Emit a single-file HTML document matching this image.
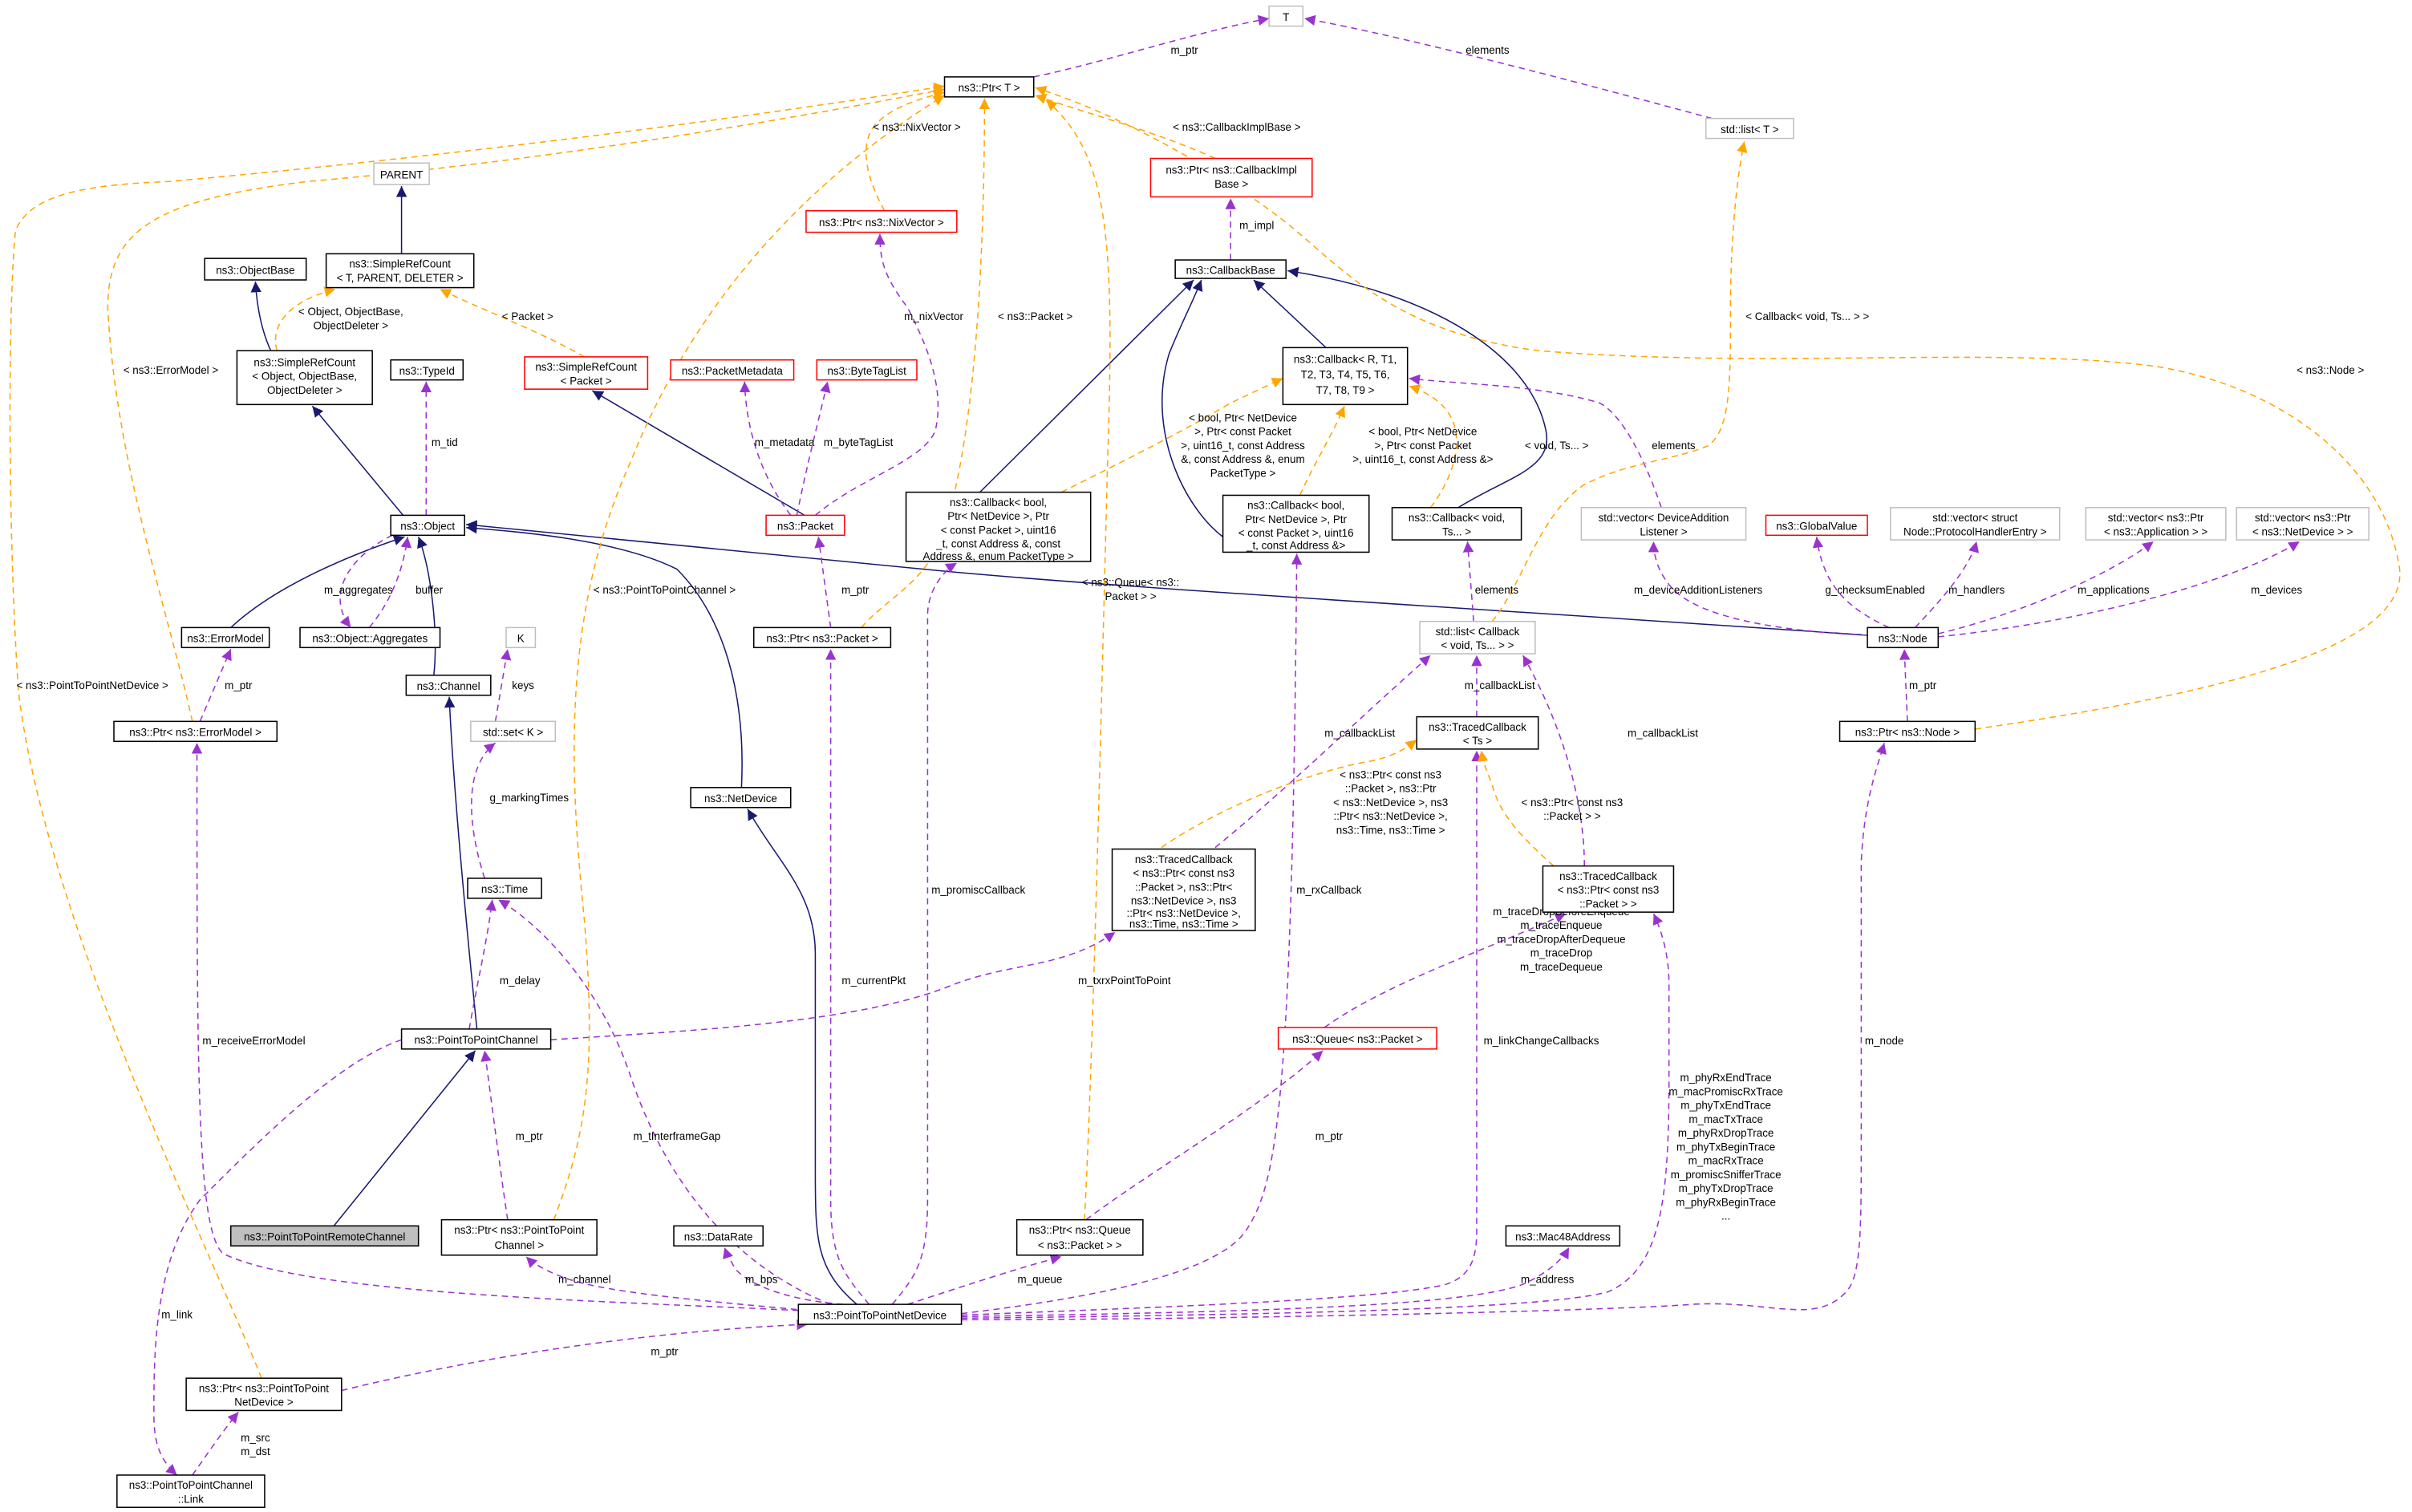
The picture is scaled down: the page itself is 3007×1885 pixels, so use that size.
<!DOCTYPE html>
<html><head><meta charset="utf-8"><style>
html,body{margin:0;padding:0;background:#fff}
svg{display:block}
text{font-family:"Liberation Sans","DejaVu Sans",sans-serif;font-size:7.0px;fill:#000}
.nb rect{fill:#fff;stroke:#000;stroke-width:0.8}
.ng rect{fill:#fff;stroke:#bfbfbf;stroke-width:0.8}
.nr rect{fill:#fff;stroke:#ff0000;stroke-width:0.8}
.nn{fill:none;stroke:#191970;stroke-width:0.8}
.pp{fill:none;stroke:#9a32cd;stroke-width:0.8;stroke-dasharray:4,3}
.oo{fill:none;stroke:#ffa500;stroke-width:0.8;stroke-dasharray:4,3}
.c{text-anchor:middle}
</style></head><body>
<svg width="3007" height="1885" viewBox="0 0 1568 983" xmlns="http://www.w3.org/2000/svg">
<defs>
<marker id="an" viewBox="0 0 10 10" refX="10" refY="5" markerWidth="7" markerHeight="7" markerUnits="userSpaceOnUse" orient="auto"><path d="M0,0L10,5L0,10z" fill="#191970"/></marker>
<marker id="ap" viewBox="0 0 10 10" refX="10" refY="5" markerWidth="7" markerHeight="7" markerUnits="userSpaceOnUse" orient="auto"><path d="M0,0L10,5L0,10z" fill="#9a32cd"/></marker>
<marker id="ao" viewBox="0 0 10 10" refX="10" refY="5" markerWidth="7" markerHeight="7" markerUnits="userSpaceOnUse" orient="auto"><path d="M0,0L10,5L0,10z" fill="#ffa500"/></marker>
</defs>

<g marker-end="url(#an)">
<path class="nn" d="M261,165 L261,121"/>
<path class="nn" d="M176,228 C170,215 167,200 166,183"/>
<path class="nn" d="M262,335 L203,264"/>
<path class="nn" d="M150,408 C180,380 230,360 263,349"/>
<path class="nn" d="M282,439 C285,410 280,370 272,349"/>
<path class="nn" d="M482,512 C485,450 470,400 440,370 C400,350 330,345 303,343"/>
<path class="nn" d="M1214,413 C1000,398 720,382 600,370 C450,355 350,345 303,341"/>
<path class="nn" d="M523,335 L385,254"/>
<path class="nn" d="M637,320 L776,182"/>
<path class="nn" d="M795,349 C770,330 745,280 760,230 C768,210 776,195 781,182"/>
<path class="nn" d="M862,226 L815,182"/>
<path class="nn" d="M948,330 C980,310 1010,305 1005,280 C995,230 930,190 837,176"/>
<path class="nn" d="M310,669 C305,620 295,520 292,453"/>
<path class="nn" d="M557,848 C530,825 530,805 530,760 L530,620 C530,580 505,560 486,526"/>
<path class="nn" d="M217,797 L309,683"/>
</g>

<g marker-end="url(#ap)">
<path class="pp" d="M1113,77 C1050,60 920,25 848,12"/>
<path class="pp" d="M672,50 C720,40 780,20 825,12"/>
<path class="pp" d="M800,169 L800,129"/>
<path class="pp" d="M530,335 C560,310 600,300 608,280 C615,250 600,220 590,200 C575,180 572,170 572,152"/>
<path class="pp" d="M514,335 C495,310 485,280 484,248"/>
<path class="pp" d="M518,335 C525,300 533,270 538,248"/>
<path class="pp" d="M277,335 L277,248"/>
<path class="pp" d="M255,348 C230,360 210,385 228,408"/>
<path class="pp" d="M240,408 C255,390 262,370 265,349"/>
<path class="pp" d="M322,469 L330,422"/>
<path class="pp" d="M315,571 C305,540 300,500 322,483"/>
<path class="pp" d="M130,469 L150,422"/>
<path class="pp" d="M540,408 L532,349"/>
<path class="pp" d="M305,669 C310,640 317,610 320,585"/>
<path class="pp" d="M330,793 C325,760 320,720 315,683"/>
<path class="pp" d="M261,676 C220,690 170,740 130,780 C100,820 100,880 100,920 C100,940 105,950 115,959"/>
<path class="pp" d="M125,959 C135,945 145,930 155,918"/>
<path class="pp" d="M222,904 C320,880 430,865 525,861"/>
<path class="pp" d="M358,676 C450,670 560,665 620,640 C660,625 690,630 725,606"/>
<path class="pp" d="M861,668 C900,640 960,620 1018,594"/>
<path class="pp" d="M706,793 C750,760 820,720 860,683"/>
<path class="pp" d="M1214,413 C1150,410 1100,400 1085,380 C1077,370 1075,360 1075,352"/>
<path class="pp" d="M1228,408 C1200,395 1185,380 1181,349"/>
<path class="pp" d="M1245,408 C1262,390 1280,370 1285,352"/>
<path class="pp" d="M1260,412 C1310,400 1370,375 1400,352"/>
<path class="pp" d="M1260,414 C1350,405 1450,380 1495,352"/>
<path class="pp" d="M1240,469 L1238,422"/>
<path class="pp" d="M960,466 L960,426"/>
<path class="pp" d="M790,551 C840,510 880,470 930,426"/>
<path class="pp" d="M1030,563 C1030,520 1015,470 990,426"/>
<path class="pp" d="M958,404 L954,352"/>
<path class="pp" d="M1080,330 C1070,300 1055,270 1040,262 C1000,250 950,250 916,246"/>
<path class="pp" d="M519,852 C400,846 200,842 145,815 C128,800 128,700 128,483"/>
<path class="pp" d="M540,848 C470,820 430,760 410,700 C390,640 350,600 324,585"/>
<path class="pp" d="M525,852 C450,845 390,840 365,830 C352,825 345,820 342,817"/>
<path class="pp" d="M548,848 C510,845 487,835 478,825 C474,818 472,814 471,811"/>
<path class="pp" d="M565,848 C550,830 540,820 540,780 L540,422"/>
<path class="pp" d="M580,848 C595,830 603,820 603,780 L603,400 C603,385 612,372 622,366"/>
<path class="pp" d="M590,848 C630,835 660,825 690,817"/>
<path class="pp" d="M625,854 C700,845 790,830 810,800 C830,770 840,720 843,360"/>
<path class="pp" d="M625,855 C750,850 900,845 940,835 C955,830 960,820 960,800 L960,488"/>
<path class="pp" d="M625,856 C800,853 950,850 990,835 C1005,828 1015,820 1020,811"/>
<path class="pp" d="M625,857 C800,855 1000,852 1045,840 C1080,825 1085,780 1085,700 L1085,640 C1085,620 1080,605 1075,594"/>
<path class="pp" d="M625,858 C800,858 1050,852 1100,848 C1150,845 1180,862 1200,840 C1210,830 1210,800 1210,740 L1210,560 C1212,520 1220,500 1225,483"/>
</g>

<g marker-end="url(#ao)">
<path class="oo" d="M575,137 C560,110 560,90 570,80 C580,70 595,65 614,60"/>
<path class="oo" d="M560,408 C575,390 600,380 612,350 C630,300 640,200 640,64"/>
<path class="oo" d="M380,232 C350,215 310,200 286,188"/>
<path class="oo" d="M180,228 C175,210 190,195 218,188"/>
<path class="oo" d="M125,469 C110,400 75,300 70,200 C70,150 100,130 200,118 C350,105 500,80 614,58"/>
<path class="oo" d="M170,896 C140,820 30,600 12,450 C5,350 5,200 10,150 C20,125 60,120 110,118 C200,110 400,90 614,56"/>
<path class="oo" d="M360,793 C380,740 388,700 380,600 C370,500 365,400 410,300 C450,200 520,120 614,62"/>
<path class="oo" d="M790,103 C750,85 710,75 673,62"/>
<path class="oo" d="M705,793 C710,700 715,500 720,300 C725,150 720,100 680,65"/>
<path class="oo" d="M1284,474 C1450,450 1565,420 1560,370 C1550,300 1480,250 1400,238 C1300,225 1150,240 1000,228 C900,215 870,170 830,140 C790,110 730,75 673,57"/>
<path class="oo" d="M970,404 C990,380 1000,335 1030,315 C1060,300 1085,300 1110,290 C1125,280 1125,250 1125,200 C1125,150 1130,110 1134,92"/>
<path class="oo" d="M690,320 C730,300 770,280 800,262 C815,255 825,250 834,246"/>
<path class="oo" d="M845,322 C855,300 865,285 874,264"/>
<path class="oo" d="M930,330 C945,310 950,290 945,275 C940,262 928,255 916,251"/>
<path class="oo" d="M755,551 C800,520 860,500 890,495 C905,492 912,488 921,481"/>
<path class="oo" d="M1010,563 C990,545 975,530 970,510 C966,500 964,495 963,488"/>
</g>

<g>
<text x="770" y="35" class="c">m_ptr</text>
<text x="967" y="35" class="c">elements</text>
<text x="596" y="85" class="c">&lt; ns3::NixVector &gt;</text>
<text x="804" y="85" class="c">&lt; ns3::CallbackImplBase &gt;</text>
<text x="817" y="149" class="c">m_impl</text>
<text x="607" y="208" class="c">m_nixVector</text>
<text x="673" y="208" class="c">&lt; ns3::Packet &gt;</text>
<text x="343" y="208" class="c">&lt; Packet &gt;</text>
<text x="228" y="205" class="c">&lt; Object, ObjectBase,</text>
<text x="228" y="214" class="c">ObjectDeleter &gt;</text>
<text x="111" y="243" class="c">&lt; ns3::ErrorModel &gt;</text>
<text x="1175" y="208" class="c">&lt; Callback&lt; void, Ts... &gt; &gt;</text>
<text x="1515" y="243" class="c">&lt; ns3::Node &gt;</text>
<text x="289" y="290" class="c">m_tid</text>
<text x="510" y="290" class="c">m_metadata</text>
<text x="558" y="290" class="c">m_byteTagList</text>
<text x="808" y="274" class="c">&lt; bool, Ptr&lt; NetDevice</text>
<text x="808" y="283" class="c">&gt;, Ptr&lt; const Packet</text>
<text x="808" y="292" class="c">&gt;, uint16_t, const Address</text>
<text x="808" y="301" class="c">&amp;, const Address &amp;, enum</text>
<text x="808" y="310" class="c">PacketType &gt;</text>
<text x="925" y="283" class="c">&lt; bool, Ptr&lt; NetDevice</text>
<text x="925" y="292" class="c">&gt;, Ptr&lt; const Packet</text>
<text x="925" y="301" class="c">&gt;, uint16_t, const Address &amp;&gt;</text>
<text x="1012" y="292" class="c">&lt; void, Ts... &gt;</text>
<text x="1088" y="292" class="c">elements</text>
<text x="233" y="386" class="c">m_aggregates</text>
<text x="279" y="386" class="c">buffer</text>
<text x="432" y="386" class="c">&lt; ns3::PointToPointChannel &gt;</text>
<text x="556" y="386" class="c">m_ptr</text>
<text x="735" y="381" class="c">&lt; ns3::Queue&lt; ns3::</text>
<text x="735" y="390" class="c">Packet &gt; &gt;</text>
<text x="973" y="386" class="c">elements</text>
<text x="1104" y="386" class="c">m_deviceAdditionListeners</text>
<text x="1219" y="386" class="c">g_checksumEnabled</text>
<text x="1285" y="386" class="c">m_handlers</text>
<text x="1374" y="386" class="c">m_applications</text>
<text x="1480" y="386" class="c">m_devices</text>
<text x="340" y="448" class="c">keys</text>
<text x="155" y="448" class="c">m_ptr</text>
<text x="60" y="448" class="c">&lt; ns3::PointToPointNetDevice &gt;</text>
<text x="975" y="448" class="c">m_callbackList</text>
<text x="1250" y="448" class="c">m_ptr</text>
<text x="884" y="479" class="c">m_callbackList</text>
<text x="1081" y="479" class="c">m_callbackList</text>
<text x="904" y="506" class="c">&lt; ns3::Ptr&lt; const ns3</text>
<text x="904" y="515" class="c">::Packet &gt;, ns3::Ptr</text>
<text x="904" y="524" class="c">&lt; ns3::NetDevice &gt;, ns3</text>
<text x="904" y="533" class="c">::Ptr&lt; ns3::NetDevice &gt;,</text>
<text x="904" y="542" class="c">ns3::Time, ns3::Time &gt;</text>
<text x="1022" y="524" class="c">&lt; ns3::Ptr&lt; const ns3</text>
<text x="1022" y="533" class="c">::Packet &gt; &gt;</text>
<text x="344" y="521" class="c">g_markingTimes</text>
<text x="636" y="581" class="c">m_promiscCallback</text>
<text x="864" y="581" class="c">m_rxCallback</text>
<text x="1015" y="595" class="c">m_traceDropBeforeEnqueue</text>
<text x="1015" y="604" class="c">m_traceEnqueue</text>
<text x="1015" y="613" class="c">m_traceDropAfterDequeue</text>
<text x="1015" y="622" class="c">m_traceDrop</text>
<text x="1015" y="631" class="c">m_traceDequeue</text>
<text x="338" y="640" class="c">m_delay</text>
<text x="568" y="640" class="c">m_currentPkt</text>
<text x="731" y="640" class="c">m_txrxPointToPoint</text>
<text x="165" y="679" class="c">m_receiveErrorModel</text>
<text x="1002" y="679" class="c">m_linkChangeCallbacks</text>
<text x="1225" y="679" class="c">m_node</text>
<text x="1122" y="703" class="c">m_phyRxEndTrace</text>
<text x="1122" y="712" class="c">m_macPromiscRxTrace</text>
<text x="1122" y="721" class="c">m_phyTxEndTrace</text>
<text x="1122" y="730" class="c">m_macTxTrace</text>
<text x="1122" y="739" class="c">m_phyRxDropTrace</text>
<text x="1122" y="748" class="c">m_phyTxBeginTrace</text>
<text x="1122" y="757" class="c">m_macRxTrace</text>
<text x="1122" y="766" class="c">m_promiscSnifferTrace</text>
<text x="1122" y="775" class="c">m_phyTxDropTrace</text>
<text x="1122" y="784" class="c">m_phyRxBeginTrace</text>
<text x="1122" y="793" class="c">...</text>
<text x="344" y="741" class="c">m_ptr</text>
<text x="440" y="741" class="c">m_tInterframeGap</text>
<text x="864" y="741" class="c">m_ptr</text>
<text x="380" y="834" class="c">m_channel</text>
<text x="495" y="834" class="c">m_bps</text>
<text x="676" y="834" class="c">m_queue</text>
<text x="1006" y="834" class="c">m_address</text>
<text x="432" y="881" class="c">m_ptr</text>
<text x="115" y="857" class="c">m_link</text>
<text x="166" y="937" class="c">m_src</text>
<text x="166" y="946" class="c">m_dst</text>
</g>

<g class="ng"><rect x="825" y="4" width="22" height="13"/><text x="836" y="13.5" class="c">T</text></g>
<g class="nb"><rect x="614" y="50" width="58" height="13"/><text x="643" y="59.5" class="c">ns3::Ptr&lt; T &gt;</text></g>
<g class="ng"><rect x="1109" y="77" width="57" height="13"/><text x="1137.5" y="86.5" class="c">std::list&lt; T &gt;</text></g>
<g class="nr"><rect x="748" y="103" width="105" height="25"/><text x="800.5" y="113" class="c">ns3::Ptr&lt; ns3::CallbackImpl</text><text x="800.5" y="122" class="c">Base &gt;</text></g>
<g class="ng"><rect x="243" y="106" width="36" height="14"/><text x="261" y="116" class="c">PARENT</text></g>
<g class="nr"><rect x="524" y="137" width="98" height="14"/><text x="573" y="147" class="c">ns3::Ptr&lt; ns3::NixVector &gt;</text></g>
<g class="nb"><rect x="133" y="168" width="66" height="14"/><text x="166" y="178" class="c">ns3::ObjectBase</text></g>
<g class="nb"><rect x="212" y="165" width="96" height="22"/><text x="260" y="174" class="c">ns3::SimpleRefCount</text><text x="260" y="183" class="c">&lt; T, PARENT, DELETER &gt;</text></g>
<g class="nb"><rect x="764" y="169" width="72" height="12"/><text x="800" y="178" class="c">ns3::CallbackBase</text></g>
<g class="nb"><rect x="154" y="228" width="88" height="35"/><text x="198" y="238" class="c">ns3::SimpleRefCount</text><text x="198" y="247" class="c">&lt; Object, ObjectBase,</text><text x="198" y="256" class="c">ObjectDeleter &gt;</text></g>
<g class="nb"><rect x="254" y="234" width="47" height="13"/><text x="277.5" y="243.5" class="c">ns3::TypeId</text></g>
<g class="nr"><rect x="341" y="232" width="80" height="21"/><text x="381" y="241" class="c">ns3::SimpleRefCount</text><text x="381" y="250" class="c">&lt; Packet &gt;</text></g>
<g class="nr"><rect x="436" y="234" width="80" height="13"/><text x="476" y="243.5" class="c">ns3::PacketMetadata</text></g>
<g class="nr"><rect x="531" y="234" width="65" height="13"/><text x="563.5" y="243.5" class="c">ns3::ByteTagList</text></g>
<g class="nb"><rect x="834" y="226" width="81" height="37"/><text x="874.5" y="236" class="c">ns3::Callback&lt; R, T1,</text><text x="874.5" y="246" class="c">T2, T3, T4, T5, T6,</text><text x="874.5" y="256" class="c">T7, T8, T9 &gt;</text></g>
<g class="nb"><rect x="254" y="335" width="48" height="13"/><text x="278" y="344.5" class="c">ns3::Object</text></g>
<g class="nr"><rect x="498" y="335" width="51" height="13"/><text x="523.5" y="344.5" class="c">ns3::Packet</text></g>
<g class="nb"><rect x="589" y="320" width="120" height="45"/><text x="649" y="329" class="c">ns3::Callback&lt; bool,</text><text x="649" y="338" class="c">Ptr&lt; NetDevice &gt;, Ptr</text><text x="649" y="347" class="c">&lt; const Packet &gt;, uint16</text><text x="649" y="356" class="c">_t, const Address &amp;, const</text><text x="649" y="364" class="c">Address &amp;, enum PacketType &gt;</text></g>
<g class="nb"><rect x="795" y="322" width="95" height="37"/><text x="842.5" y="331" class="c">ns3::Callback&lt; bool,</text><text x="842.5" y="340" class="c">Ptr&lt; NetDevice &gt;, Ptr</text><text x="842.5" y="349" class="c">&lt; const Packet &gt;, uint16</text><text x="842.5" y="357" class="c">_t, const Address &amp;&gt;</text></g>
<g class="nb"><rect x="905" y="330" width="84" height="21"/><text x="947" y="339" class="c">ns3::Callback&lt; void,</text><text x="947" y="348" class="c">Ts... &gt;</text></g>
<g class="ng"><rect x="1028" y="330" width="107" height="21"/><text x="1081.5" y="339" class="c">std::vector&lt; DeviceAddition</text><text x="1081.5" y="348" class="c">Listener &gt;</text></g>
<g class="nr"><rect x="1148" y="335" width="66" height="13"/><text x="1181" y="344.5" class="c">ns3::GlobalValue</text></g>
<g class="ng"><rect x="1229" y="330" width="110" height="21"/><text x="1284" y="339" class="c">std::vector&lt; struct</text><text x="1284" y="348" class="c">Node::ProtocolHandlerEntry &gt;</text></g>
<g class="ng"><rect x="1356" y="330" width="91" height="21"/><text x="1401.5" y="339" class="c">std::vector&lt; ns3::Ptr</text><text x="1401.5" y="348" class="c">&lt; ns3::Application &gt; &gt;</text></g>
<g class="ng"><rect x="1454" y="330" width="86" height="21"/><text x="1497" y="339" class="c">std::vector&lt; ns3::Ptr</text><text x="1497" y="348" class="c">&lt; ns3::NetDevice &gt; &gt;</text></g>
<g class="nb"><rect x="118" y="408" width="57" height="13"/><text x="146.5" y="417.5" class="c">ns3::ErrorModel</text></g>
<g class="nb"><rect x="195" y="408" width="91" height="13"/><text x="240.5" y="417.5" class="c">ns3::Object::Aggregates</text></g>
<g class="ng"><rect x="329" y="408" width="19" height="13"/><text x="338.5" y="417.5" class="c">K</text></g>
<g class="nb"><rect x="490" y="408" width="89" height="13"/><text x="534.5" y="417.5" class="c">ns3::Ptr&lt; ns3::Packet &gt;</text></g>
<g class="ng"><rect x="923" y="404" width="75" height="21"/><text x="960.5" y="413" class="c">std::list&lt; Callback</text><text x="960.5" y="422" class="c">&lt; void, Ts... &gt; &gt;</text></g>
<g class="nb"><rect x="1214" y="408" width="46" height="13"/><text x="1237" y="417.5" class="c">ns3::Node</text></g>
<g class="nb"><rect x="264" y="439" width="55" height="13"/><text x="291.5" y="448.5" class="c">ns3::Channel</text></g>
<g class="nb"><rect x="74" y="469" width="106" height="13"/><text x="127" y="478.5" class="c">ns3::Ptr&lt; ns3::ErrorModel &gt;</text></g>
<g class="ng"><rect x="306" y="469" width="55" height="13"/><text x="333.5" y="478.5" class="c">std::set&lt; K &gt;</text></g>
<g class="nb"><rect x="921" y="466" width="79" height="21"/><text x="960.5" y="475" class="c">ns3::TracedCallback</text><text x="960.5" y="484" class="c">&lt; Ts &gt;</text></g>
<g class="nb"><rect x="1196" y="469" width="88" height="13"/><text x="1240" y="478.5" class="c">ns3::Ptr&lt; ns3::Node &gt;</text></g>
<g class="nb"><rect x="449" y="512" width="65" height="13"/><text x="481.5" y="521.5" class="c">ns3::NetDevice</text></g>
<g class="nb"><rect x="723" y="552" width="93" height="53"/><text x="769.5" y="561" class="c">ns3::TracedCallback</text><text x="769.5" y="570" class="c">&lt; ns3::Ptr&lt; const ns3</text><text x="769.5" y="579" class="c">::Packet &gt;, ns3::Ptr&lt;</text><text x="769.5" y="588" class="c">ns3::NetDevice &gt;, ns3</text><text x="769.5" y="596" class="c">::Ptr&lt; ns3::NetDevice &gt;,</text><text x="769.5" y="603" class="c">ns3::Time, ns3::Time &gt;</text></g>
<g class="nb"><rect x="1003" y="563" width="85" height="30"/><text x="1045.5" y="572" class="c">ns3::TracedCallback</text><text x="1045.5" y="581" class="c">&lt; ns3::Ptr&lt; const ns3</text><text x="1045.5" y="590" class="c">::Packet &gt; &gt;</text></g>
<g class="nb"><rect x="304" y="571" width="48" height="13"/><text x="328" y="580.5" class="c">ns3::Time</text></g>
<g class="nb"><rect x="261" y="669" width="97" height="13"/><text x="309.5" y="678.5" class="c">ns3::PointToPointChannel</text></g>
<g class="nr"><rect x="831" y="668" width="103" height="14"/><text x="882.5" y="678" class="c">ns3::Queue&lt; ns3::Packet &gt;</text></g>
<g class="nb"><rect x="150" y="797" width="122" height="13" style="fill:#bfbfbf"/><text x="211" y="806.5" class="c">ns3::PointToPointRemoteChannel</text></g>
<g class="nb"><rect x="287" y="793" width="101" height="23"/><text x="337.5" y="802" class="c">ns3::Ptr&lt; ns3::PointToPoint</text><text x="337.5" y="812" class="c">Channel &gt;</text></g>
<g class="nb"><rect x="438" y="797" width="58" height="13"/><text x="467" y="806.5" class="c">ns3::DataRate</text></g>
<g class="nb"><rect x="661" y="793" width="82" height="23"/><text x="702" y="802" class="c">ns3::Ptr&lt; ns3::Queue</text><text x="702" y="812" class="c">&lt; ns3::Packet &gt; &gt;</text></g>
<g class="nb"><rect x="979" y="797" width="74" height="13"/><text x="1016" y="806.5" class="c">ns3::Mac48Address</text></g>
<g class="nb"><rect x="519" y="848" width="106" height="13"/><text x="572" y="857.5" class="c">ns3::PointToPointNetDevice</text></g>
<g class="nb"><rect x="121" y="896" width="101" height="21"/><text x="171.5" y="905" class="c">ns3::Ptr&lt; ns3::PointToPoint</text><text x="171.5" y="914" class="c">NetDevice &gt;</text></g>
<g class="nb"><rect x="76" y="959" width="96" height="21"/><text x="124" y="968" class="c">ns3::PointToPointChannel</text><text x="124" y="977" class="c">::Link</text></g>
</svg>
</body></html>
